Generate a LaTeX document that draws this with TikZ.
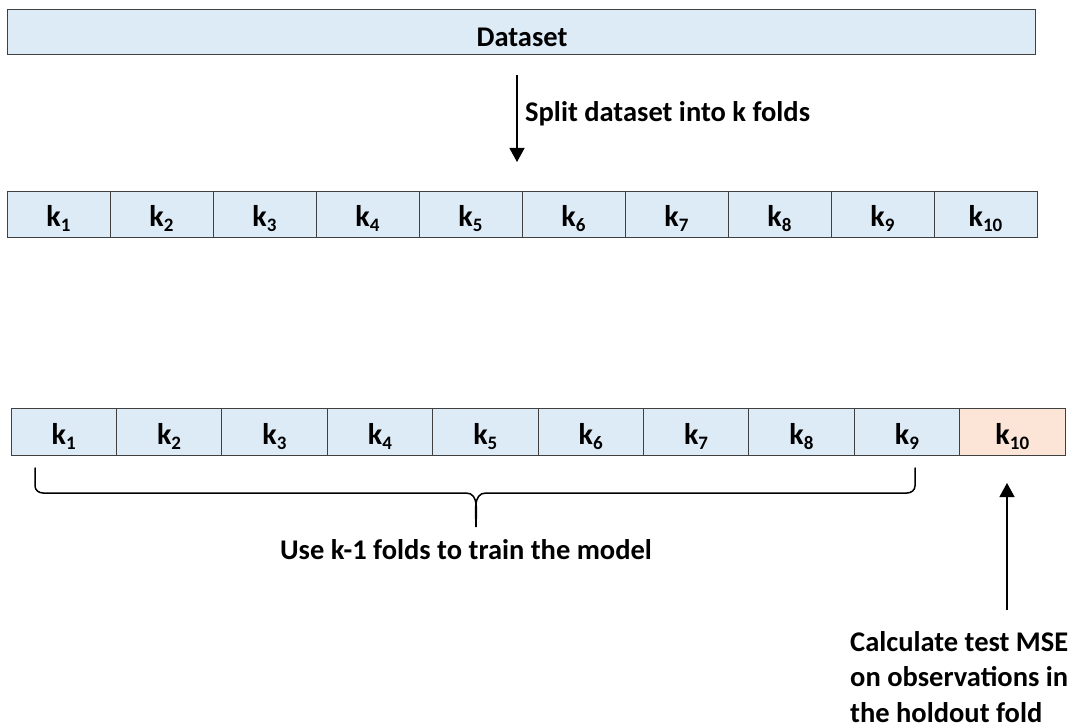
\documentclass[tikz,border=0pt]{standalone}
\usepackage{fontspec}
\setmainfont{Carlito}
\usetikzlibrary{arrows.meta,calc}
\definecolor{cellblue}{HTML}{DDEBF7}
\definecolor{cellpeach}{HTML}{FCE4D6}
\definecolor{edge}{HTML}{404040}
\newcommand{\ksub}[1]{k\raisebox{-5pt}{\fontsize{19}{19}\selectfont #1}}
\begin{document}
\begin{tikzpicture}[x=1pt,y=-1pt,
  box/.style={draw=edge,line width=1pt,fill=cellblue,inner sep=0pt,outer sep=0pt},
  cellA/.style={box,minimum width=103pt,minimum height=46pt},
  cellB/.style={box,minimum width=105.4pt,minimum height=47pt},
  ktext/.style={font=\bfseries\fontsize{30}{32}\selectfont,inner sep=0pt,anchor=base},
  lbl/.style={font=\bfseries\fontsize{28.5}{34}\selectfont,inner sep=0pt},
  arr/.style={line width=1.3pt,-{Triangle[width=15pt,length=14pt]}}]
\useasboundingbox (0,0) rectangle (1072,727);
\node[box,minimum width=1028pt,minimum height=45pt,anchor=north west] (ds) at (7,10) {};
\node[lbl,anchor=base] (dst) at (522,47) {Dataset};
\coordinate (a1) at (517,75);
\coordinate (a2) at (517,162);
\draw[arr] (a1) -- (a2);
\node[lbl,anchor=base west] (split) at (525,122) {Split dataset into k folds};
% row 1
\foreach \i in {1,...,10}{
  \node[cellA,anchor=north west] (r\i) at ({7+103*(\i-1)},192) {};
  \node[ktext] (rt\i) at ($(r\i.center)+(0,12)$) {\ksub{\i}};
}
% row 2
\foreach \i in {1,...,9}{
  \node[cellB,anchor=north west] (s\i) at ({11+105.4*(\i-1)},409) {};
}
\node[cellB,fill=cellpeach,anchor=north west] (s10) at ({11+105.4*9},409) {};
\foreach \i in {1,...,10}{
  \node[ktext] (st\i) at ($(s\i.center)+(0,12)$) {\ksub{\i}};
}
% brace
\coordinate (b1) at (35,468);
\coordinate (b2) at (915,468);
\coordinate (bt) at (476,527);
\draw[line width=1.5pt,line cap=round]
  (b1) -- (35,486) to[out=-90,in=180] (43,493) -- (466,493)
  to[out=0,in=90] (bt)
  to[out=90,in=180] (486,493) -- (907,493) to[out=0,in=-90] (915,486) -- (b2);
\node[lbl,anchor=base] (train) at (466,559) {Use k-1 folds to train the model};
% arrow up
\coordinate (c1) at (1007,610);
\coordinate (c2) at (1007,483);
\draw[arr] (c1) -- (c2);
\node[lbl,anchor=base west] (calc1) at (850,651) {Calculate test MSE};
\node[lbl,anchor=base west] (calc2) at (850,686.5) {on observations in};
\node[lbl,anchor=base west] (calc3) at (850,722) {the holdout fold};
\end{tikzpicture}
\end{document}
